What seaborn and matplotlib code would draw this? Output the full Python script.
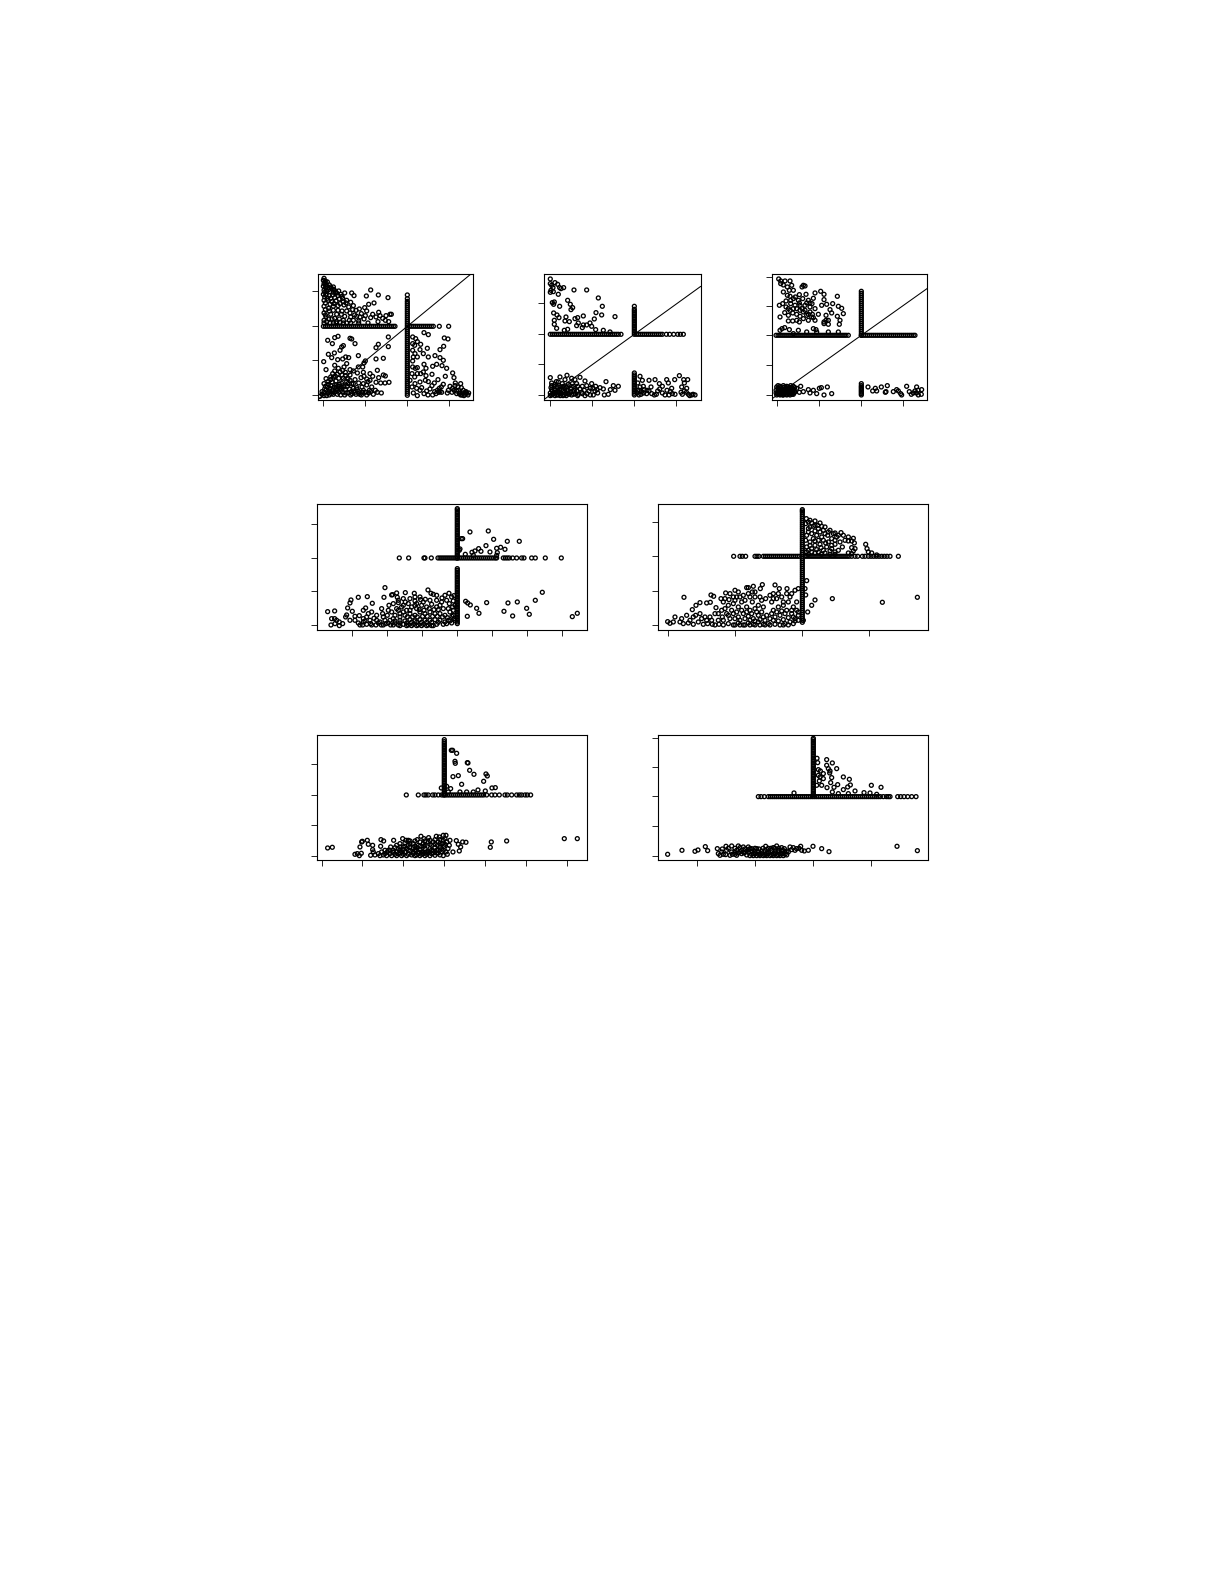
import matplotlib
matplotlib.use("Agg")
import matplotlib.pyplot as plt
import pandas as pd
import seaborn as sns

# Values are (x, y) readings on each panel's own unlabelled scale.
# ---------- panel 1 ----------
p1_ul = [(72,366),(70,360),(76,358),(82,355),(72,350),(78,348),(88,346),(70,342),(76,338),(84,338),(94,336),(102,332),(72,330),(80,328),(90,326),(100,324),(110,322),(70,318),(78,316),(88,314),(98,316),(114,314),(126,312),(134,322),(128,306),(140,300),(155,322),(162,314),(212,331),(199,313),(235,316),(264,308),(72,300),(84,300),(96,296),(108,298),(120,290),(132,286),(146,280),(160,284),(178,274),(194,278),(206,288),(222,292),(72,282),(86,276),(100,282),(114,270),(126,268),(150,262),(168,270),(184,260),(170,252),(200,268),(236,264),(240,254),(258,254),(270,258),(274,258),(228,250),(248,246),(72,262),(78,250),(92,258),(104,246),(118,244),(134,252),(148,240),(160,240),(176,238),(192,244),(212,248),(234,236),(256,240),(266,236),(80,236),(100,232),(120,234),(140,232),(204,232),(72,240)]
p1_ul2 = [(74,354),(80,342),(86,332),(74,324),(92,340),(100,340),(106,326),(116,328),(122,318),(74,310),(82,306),(92,306),(104,308),(118,304),(130,296),(76,292),(90,288),(102,290),(114,284),(138,292),(152,294),(76,272),(88,268),(100,270),(110,258),(124,258),(140,268),(158,272),(76,256),(86,244),(96,244),(110,236),(130,240),(152,250),(164,256),(180,250),(196,254),(218,258),(72,232),(90,232),(108,232),(130,232),(152,232),(176,232)]
p1_ll = [(83,180),(97,170),(104,188),(114,192),(150,186),(155,184),(165,170),(235,168),(265,190),(228,158),(265,161),(125,160),(130,164),(120,150),(103,142),(85,138),(95,128),(113,122),(71,116),(128,124),(137,130),(146,128),(175,134),(192,112),(228,124),(250,126),(196,118),(188,100),(104,105),(115,96),(78,92),(140,110),(132,100),(120,85),(175,100),(232,90),(210,80),(172,82),(190,84),(150,76),(100,70),(78,65),(92,62),(250,76),(256,73),(130,66),(150,60),(165,62),(183,68),(210,60),(228,54),(242,52),(255,52),(267,54),(72,50),(85,48),(96,55),(108,58),(118,48),(130,44),(142,42),(155,50),(170,38),(186,40),(200,46),(215,40),(60,12),(66,18),(72,24),(78,30),(84,22),(90,36),(98,28),(104,40),(112,30),(120,36),(128,24),(136,32),(144,22),(152,16),(160,28),(168,18),(176,26),(184,16),(196,24),(206,22),(72,14),(80,14),(88,16),(100,18),(112,18),(122,16),(134,16),(154,26),(176,20),(190,30),(212,26),(226,30),(92,44),(106,26),(116,42),(126,50),(140,56),(160,36)]
p1_ll2 = [(66,26),(74,34),(82,40),(88,28),(94,20),(102,24),(108,34),(116,24),(124,30),(132,40),(138,22),(148,34),(156,20),(164,24),(172,32),(180,18),(188,24),(200,16),(208,30),(220,18),(232,24),(244,22),(76,42),(84,56),(92,70),(98,80),(106,72),(116,66),(126,76),(136,74),(144,64),(108,46),(124,40),(144,50),(160,50),(176,52),(190,50),(204,56),(128,90),(136,84),(150,92),(160,88),(192,72),(200,64),(218,72),(236,68),(104,88),(112,78)]
p1_lr = [(347,185),(338,190),(352,176),(362,168),(372,203),(385,197),(433,187),(444,184),(431,162),(420,152),(338,150),(345,140),(360,152),(382,156),(352,130),(370,140),(338,118),(385,130),(405,134),(420,128),(430,120),(352,98),(346,96),(372,108),(378,96),(398,102),(410,108),(426,104),(440,96),(370,85),(362,80),(378,74),(396,78),(414,62),(436,72),(458,82),(462,68),(330,60),(345,50),(360,55),(385,56),(403,52),(418,36),(430,48),(450,42),(466,52),(474,40),(482,50),(336,40),(350,36),(365,38),(380,28),(396,44),(412,30),(425,24),(445,30),(462,30),(470,28),(480,22),(490,30),(496,18),(504,16),(492,14),(478,20),(340,22),(352,14),(384,16),(398,16),(420,26),(470,20),(500,22)]
p1_lr2 = [(338,100),(344,70),(352,80),(336,80),(340,130),(344,165),(338,170),(360,30),(372,20),(376,60),(390,34),(404,26),(408,20),(416,24),(424,40),(442,22),(456,24),(458,36),(465,44),(476,30),(484,38),(486,16),(498,26),(506,22),(496,24),(488,22),(482,16)]
p1_vert_y = [15,21,27,33,39,45,51,57,63,69,75,81,87,93,99,105,111,117,123,129,135,141,147,153,159,165,171,177,183,189,195,201,207,213,219,225,231,237,243,249,255,261,267,273,279,285,291,297,305,316]
p1_horz_x = [70,76,82,88,94,100,106,112,118,124,130,136,142,148,154,160,166,172,178,184,190,196,202,208,214,220,226,232,238,244,250,256,262,268,274,280,285,328,334,340,346,352,358,364,370,376,382,388,394,400,418,446]

# ---------- panel 2 ----------
p2_ul = [(76,364),(76,350),(80,345),(90,353),(98,348),(84,338),(78,330),(76,324),(85,326),(104,338),(116,338),(108,335),(147,331),(185,331),(220,307),(100,318),(88,295),(82,293),(86,288),(128,300),(136,288),(104,282),(143,278),(138,272),(232,282),(213,263),(230,256),(270,251),(86,262),(96,256),(123,250),(102,248),(175,253),(150,245),(158,248),(88,240),(120,238),(133,236),(208,244),(160,232),(88,228),(175,226),(195,232),(155,224),(185,226),(95,216),(118,210),(128,213),(172,218),(212,212),(235,210),(255,205),(200,222)]
p2_ll = [(76,68),(105,70),(126,75),(140,66),(165,69),(150,62),(120,62),(80,52),(100,55),(90,48),(112,50),(130,48),(155,50),(180,58),(185,44),(200,50),(243,56),(212,42),(225,38),(235,34),(280,42),(265,44),(256,32),(270,30),(238,16),(205,16),(218,22),(250,18),(78,38),(88,34),(96,40),(104,32),(120,36),(136,36),(148,30),(165,34),(178,30),(192,28),(210,28),(76,22),(84,18),(92,24),(100,16),(110,20),(118,16),(128,22),(140,16),(152,20),(160,18),(170,24),(186,20),(82,28),(98,26),(114,28),(130,30),(146,42),(76,14),(90,14),(106,14),(124,14)]
p2_ll2 = [(80,44),(88,42),(94,56),(102,44),(108,40),(116,42),(124,40),(134,44),(142,50),(150,36),(158,42),(172,42),(80,32),(90,30),(102,24),(110,32),(118,24),(126,30),(136,24),(144,26),(156,28),(172,20),(196,36),(204,36),(216,32),(80,16),(88,22),(96,16),(104,20),(114,14),(122,20),(132,18),(146,18),(158,14),(180,14),(196,16)]
p2_lr = [(345,72),(352,60),(338,52),(372,60),(390,62),(345,40),(355,42),(378,40),(403,50),(425,62),(430,52),(463,74),(449,62),(476,62),(488,62),(478,52),(412,42),(440,36),(470,40),(485,36),(338,30),(350,26),(365,20),(380,20),(398,28),(412,22),(420,16),(436,26),(450,18),(468,24),(478,28),(490,18),(500,16),(510,16),(494,14),(504,18),(342,16),(388,16),(432,16),(358,32)]
p2_lr2 = [(336,22),(344,30),(348,18),(356,22),(366,30),(372,28),(394,18),(404,34),(426,30),(442,20),(472,18),(484,24)]
p2_vert_y = [16,21,26,31,36,41,46,51,56,61,66,71,76,82,198,203,208,213,218,223,228,233,238,243,248,253,258,263,268,273,282]
p2_horz_x = [76,82,88,94,100,106,112,118,124,130,136,142,148,154,160,166,172,178,184,190,196,202,208,214,220,226,232,238,244,250,256,262,268,274,280,288,334,340,346,352,358,364,370,376,382,388,394,400,406,412,424,434,446,458,466,475]

# ---------- panel 3 ----------
p3_ul = [(86,364),(92,358),(105,358),(120,358),(92,350),(100,346),(112,340),(125,345),(160,345),(165,343),(156,340),(130,330),(100,325),(118,330),(148,317),(168,318),(195,322),(212,327),(222,318),(262,312),(120,312),(130,305),(145,300),(158,305),(175,300),(190,306),(222,302),(230,288),(248,290),(88,285),(98,290),(108,280),(122,290),(135,285),(150,285),(165,285),(180,280),(195,275),(215,285),(240,272),(265,282),(275,276),(90,250),(104,263),(115,255),(128,262),(140,258),(150,270),(165,270),(180,265),(187,258),(205,258),(228,255),(245,262),(262,252),(280,260),(115,238),(128,238),(148,235),(160,245),(175,240),(190,248),(222,230),(235,228),(222,235),(270,240),(268,228),(96,215),(104,218),(90,210),(118,212),(170,205),(190,215),(198,212),(200,205),(235,205),(265,205),(130,200),(145,210)]
p3_ul2 = [(112,315),(122,300),(136,310),(148,292),(156,275),(170,292),(180,292),(186,290),(140,275),(150,252),(170,255),(160,265),(175,258),(120,270),(108,298),(115,275),(130,275),(185,250),(195,240),(228,240),(235,240),(140,240)]
p3_ll = [(152,42),(140,36),(175,32),(190,30),(208,36),(214,38),(232,40),(222,16),(245,20),(200,20),(180,22),(160,26),(148,24),(80,40),(90,42),(100,44),(110,42),(122,44),(130,42),(78,30),(86,32),(94,34),(104,34),(114,34),(124,34),(132,32),(78,22),(86,24),(96,24),(106,24),(116,26),(126,24),(134,24),(80,16),(90,16),(100,16),(110,16),(120,16),(130,18),(84,28),(98,28),(110,28),(120,30),(92,20),(104,20),(116,18),(128,28)]
p3_ll2 = [(84,36),(92,26),(100,38),(108,30),(118,38),(126,38),(134,38),(82,20),(90,34),(98,16),(106,28),(114,22),(122,22),(130,22),(86,18),(94,18),(102,18),(110,18),(118,22),(126,18),(84,44),(92,38),(104,40),(114,40)]
p3_lr = [(354,40),(368,28),(376,36),(380,28),(394,40),(412,44),(408,26),(406,24),(430,26),(440,32),(445,28),(455,16),(452,20),(470,42),(478,26),(490,22),(500,40),(504,30),(515,32),(500,22),(514,18),(505,16),(495,28),(484,18)]
p3_vert_y = [16,20,24,28,32,36,40,44,50,195,201,207,213,219,225,231,237,243,249,255,261,267,273,279,285,291,297,303,309,315,321,327]
p3_horz_x = [78,84,90,96,102,108,114,120,126,132,138,144,150,156,162,168,174,180,186,192,198,204,210,216,222,228,234,240,246,252,258,264,270,276,282,288,295,334,340,346,352,358,364,370,376,382,388,394,400,406,412,418,424,430,436,442,448,454,460,466,472,478,484,490,495]

# ---------- panel 4 ----------
p4_ur = [(510,295),(565,298),(484,275),(488,275),(581,273),(622,267),(658,267),(558,254),(602,249),(590,246),(615,243),(536,245),(525,238),(543,237),(516,234),(570,235),(592,233),(480,244),(478,240),(496,228),(590,225),(520,225)]
p4_lower = [(727,114),(706,90),(652,85),(624,82),(560,83),(497,87),(503,82),(511,76),(530,66),(680,66),(612,57),(537,51),(688,48),(502,42),(638,43),(817,41),(832,51),(83,56),(104,58),(95,35),(104,35),(110,30),(93,16),(118,25),(118,14),(105,20),(128,20),(140,46),(143,67),(150,82),(153,91),(175,99),(202,101),(217,81),(197,67),(190,60),(157,57),(137,40),(150,30),(165,30),(178,44),(190,35),(205,50),(215,55),(222,36),(245,65),(248,50),(255,128),(252,99),(230,30),(188,16),(200,18),(212,20),(228,16),(244,16),(258,20),(272,16),(275,106),(278,107),(290,112),(292,99),(316,113),(343,111),(345,100),(267,75),(280,80),(295,83),(316,85),(325,80),(345,88),(360,100),(362,92),(376,93),(384,121),(393,111),(400,108),(410,105),(426,97),(435,105),(447,111),(455,100),(462,104),(440,90),(420,75),(410,70),(395,78),(380,70),(365,75),(350,65),(335,70),(320,60),(305,70),(290,65),(275,55),(262,45),(285,45),(300,50),(315,45),(330,50),(345,45),(360,55),(375,50),(390,55),(405,50),(420,50),(435,45),(450,55),(460,60),(465,75),(270,30),(285,28),(300,30),(315,28),(330,32),(345,28),(360,32),(375,30),(390,30),(405,32),(420,30),(435,25),(450,28),(462,35),(280,16),(295,16),(310,18),(325,16),(340,18),(355,16),(370,18),(385,16),(400,14),(410,18),(440,20),(455,22),(465,30)]
p4_lower2 = [(300,40),(310,55),(322,40),(338,40),(352,40),(368,42),(382,42),(398,42),(412,42),(428,40),(442,38),(456,42),(295,60),(310,75),(330,60),(345,75),(358,62),(372,60),(388,65),(402,62),(415,62),(430,65),(445,65),(458,70),(300,22),(320,22),(335,24),(350,24),(365,24),(380,24),(395,24),(415,24),(430,18),(445,30),(460,45),(195,28),(210,30),(240,25),(255,30),(250,40),(265,60),(280,35),(295,90),(310,95),(330,95),(350,80),(370,85),(390,90),(410,90),(425,85),(448,80),(460,88),(230,45),(200,40),(165,42),(175,22),(180,16),(190,25),(215,16),(235,22),(250,16),(265,22),(285,22),(300,14),(320,14),(335,14),(350,14),(365,14),(380,14),(395,14)]
p4_vert_y = [20,25,30,35,40,45,50,55,60,65,70,75,80,85,90,95,100,105,110,115,120,125,130,135,140,145,150,155,160,165,170,175,180,185,216,221,226,231,236,241,246,251,256,261,266,271,276,281,286,291,296,301,306,311,316,321,326,331,336,341,346,351,356,361,365]
p4_horz_x = [298,326,372,375,394,414,420,426,432,438,444,450,456,462,468,478,484,490,496,502,508,514,520,526,532,538,544,550,556,562,568,574,580,586,590,610,616,622,628,638,650,665,672,695,706,736,784]

# ---------- panel 5 ----------
p5_ur = [(514,335),(525,330),(540,328),(555,322),(570,310),(512,320),(520,305),(535,312),(550,305),(565,300),(580,295),(600,292),(618,293),(640,280),(655,276),(515,285),(530,290),(545,285),(560,280),(578,285),(590,275),(605,280),(630,270),(650,268),(658,262),(512,270),(525,265),(540,268),(555,258),(572,262),(590,255),(600,258),(622,250),(650,248),(660,245),(692,258),(696,245),(700,235),(515,250),(530,245),(545,242),(565,240),(585,238),(600,235),(515,235),(540,232),(650,230),(710,232),(725,226),(520,228),(560,228),(585,228)]
p5_ur2 = [(520,325),(530,322),(540,315),(548,315),(560,312),(525,310),(540,298),(555,295),(570,290),(585,300),(595,290),(610,285),(625,285),(520,295),(535,275),(550,270),(565,270),(580,265),(600,270),(615,265),(640,268),(525,255),(540,255),(558,248),(575,250),(590,245),(610,240),(520,240),(530,235),(550,235),(570,232),(600,228),(640,232),(655,238)]
p5_lower = [(515,149),(510,125),(512,106),(540,91),(530,75),(592,95),(518,55),(505,30),(742,84),(847,99),(147,99),(98,26),(105,21),(120,40),(115,25),(135,25),(145,20),(155,45),(140,35),(172,62),(183,75),(195,83),(215,82),(226,84),(228,106),(236,102),(243,68),(182,45),(195,50),(210,40),(165,30),(190,25),(205,18),(225,40),(240,50),(240,16),(250,30),(258,95),(272,112),(265,85),(285,110),(300,120),(305,100),(325,105),(335,128),(340,128),(355,132),(352,115),(376,125),(382,137),(352,85),(375,100),(380,90),(270,65),(280,75),(295,80),(310,70),(320,85),(335,70),(345,60),(360,65),(370,75),(385,70),(405,105),(420,136),(433,125),(456,125),(410,85),(425,95),(440,100),(465,100),(480,120),(490,125),(415,60),(430,70),(445,75),(460,85),(475,70),(485,85),(262,40),(280,45),(295,50),(310,40),(325,50),(340,42),(355,35),(370,45),(385,40),(405,35),(420,40),(435,45),(450,50),(470,50),(480,35),(490,45),(280,20),(295,16),(310,22),(325,16),(340,22),(355,18),(370,25),(385,18),(400,20),(420,18),(435,16),(450,20),(465,25),(480,28),(490,30)]
p5_lower2 = [(275,50),(290,60),(305,55),(320,60),(335,55),(350,50),(365,55),(380,55),(395,45),(410,50),(425,55),(440,58),(455,60),(470,60),(485,60),(260,60),(250,50),(265,30),(285,35),(300,35),(315,30),(330,35),(345,30),(360,28),(375,32),(390,30),(415,30),(430,28),(445,32),(460,38),(475,40),(490,55),(200,35),(215,30),(230,30),(175,40),(160,22),(175,18),(218,20),(232,18),(252,18),(265,16),(300,90),(315,100),(330,90),(345,100),(360,100),(392,95),(415,110),(430,110),(445,85),(455,110),(470,110),(415,95),(282,92),(295,100),(270,95),(310,115),(340,110),(360,115),(300,16),(315,16),(330,16),(345,16),(360,16),(375,16),(390,16),(405,16),(445,16),(460,16),(475,20)]
p5_vert_y = [24,30,36,42,48,54,60,66,72,78,84,90,96,102,108,114,120,126,132,138,144,150,156,162,168,174,180,186,192,198,204,210,216,222,228,234,240,246,252,258,264,270,276,282,288,294,300,306,312,318,324,330,336,342,348,354,358,362]
p5_horz_x = [296,315,322,332,360,366,372,385,391,397,403,409,415,421,427,433,439,445,451,457,463,469,475,481,487,493,510,516,522,528,534,540,546,552,558,564,570,576,582,588,594,600,606,612,618,624,630,636,642,650,660,668,682,690,700,708,716,724,732,740,748,756,765,790]

# ---------- panel 6 ----------
p6_ur = [(454,330),(458,330),(470,321),(465,297),(466,291),(502,293),(504,292),(509,270),(522,258),(475,254),(459,251),(558,259),(562,253),(551,237),(485,228),(534,211),(556,208),(576,217),(586,218),(424,217),(440,222),(452,215),(445,205),(500,205),(520,205),(480,205)]
p6_lower = [(83,37),(97,39),(165,18),(172,20),(178,14),(184,21),(180,40),(185,55),(187,57),(202,60),(205,48),(218,45),(218,32),(220,25),(243,62),(251,58),(242,42),(212,15),(225,16),(235,20),(245,25),(255,20),(265,30),(272,40),(281,60),(290,45),(308,65),(318,60),(325,60),(352,62),(363,72),(372,65),(386,68),(409,72),(418,70),(430,75),(438,75),(450,60),(469,59),(488,55),(498,54),(475,48),(482,40),(478,28),(459,25),(442,18),(430,14),(571,39),(574,55),(620,58),(793,65),(832,65),(280,30),(295,35),(310,40),(325,45),(340,50),(355,45),(370,50),(385,55),(400,55),(415,55),(430,60),(440,55),(270,20),(285,18),(300,22),(315,25),(330,28),(345,30),(360,32),(375,35),(390,35),(405,38),(420,40),(432,42),(444,35),(260,14),(275,14),(290,14),(305,14),(320,14),(335,16),(350,16),(365,18),(380,18),(395,20),(410,22),(425,25),(438,25),(340,38),(355,25),(370,25),(385,28),(400,28),(415,30),(300,30),(320,35),(345,14),(360,14),(375,14),(390,14),(405,15),(420,16),(330,40),(350,38),(372,42),(395,45),(412,45),(428,50),(262,25),(448,45)]
p6_lower2 = [(300,40),(315,42),(330,50),(345,42),(360,42),(375,45),(390,48),(405,48),(420,50),(435,48),(310,32),(325,30),(340,24),(350,30),(365,25),(380,25),(395,30),(410,30),(425,35),(290,25),(305,25),(280,24),(295,20),(310,18),(325,18),(340,20),(355,20),(370,20),(385,22),(400,22),(415,22),(430,30),(285,38),(270,30),(360,55),(375,58),(390,60),(405,62),(420,62),(435,65),(345,58),(330,58),(315,52),(300,50),(255,30),(250,16),(240,14)]
p6_vert_y = [196,201,206,211,216,221,226,231,236,241,246,251,256,261,266,271,276,281,286,291,296,301,306,311,316,321,326,331,336,341,346,351,356,362]
p6_horz_x = [319,355,372,378,385,398,405,415,425,431,437,443,449,455,461,467,473,479,485,491,497,503,509,515,521,527,533,539,545,551,560,575,585,598,615,622,635,650,658,665,675,682,692]

# ---------- panel 7 ----------
p7_ur = [(546,306),(548,293),(575,302),(592,292),(605,275),(575,285),(585,268),(580,275),(550,272),(556,268),(565,260),(584,262),(590,248),(565,245),(550,255),(553,238),(545,225),(587,233),(608,227),(576,218),(597,219),(625,250),(643,243),(625,212),(638,220),(646,226),(660,208),(592,205),(709,225),(738,219),(687,203),(705,202),(477,202),(610,200),(640,200),(725,198),(560,225),(555,250)]
p7_lower = [(98,18),(141,30),(180,27),(189,31),(211,41),(218,29),(247,35),(520,30),(534,42),(560,35),(582,26),(786,42),(847,29),(250,20),(255,15),(272,17),(262,34),(273,42),(290,43),(310,43),(325,40),(340,40),(365,35),(392,42),(425,43),(440,38),(465,40),(475,38),(497,42),(500,30),(508,28),(485,35),(260,25),(275,30),(290,25),(305,30),(320,30),(335,28),(292,18),(305,15),(320,20),(335,16),(345,14),(355,20),(365,14),(375,18),(385,14),(395,20),(405,14),(415,20),(425,14),(435,20),(445,14),(455,16),(350,28),(360,28),(370,25),(380,28),(390,30),(400,25),(410,30),(420,28),(430,30),(440,28),(450,25),(460,25),(315,38),(330,34),(345,35),(400,36),(415,38),(432,36),(448,35)]
p7_lower2 = [(300,24),(315,26),(328,22),(340,24),(350,18),(360,20),(370,18),(380,20),(390,16),(400,20),(410,16),(420,20),(430,16),(440,20),(450,18),(360,36),(372,34),(384,36),(396,32),(408,36),(420,36),(432,28),(444,30),(456,28),(300,36),(310,22),(280,36),(265,18),(285,15),(300,18),(350,35),(340,32),(325,24),(355,14),(375,14),(395,14),(415,14),(435,14),(470,32),(480,30),(492,36)]
p7_vert_y = [192,197,202,207,212,217,222,227,232,237,242,247,252,257,262,267,272,277,282,287,292,297,302,307,312,317,322,327,332,337,342,347,352,357,362,366]
p7_horz_x = [370,378,388,400,406,412,418,424,430,436,442,448,454,460,466,472,478,484,490,496,502,508,514,520,526,532,538,544,550,556,562,568,574,580,586,592,598,604,610,616,622,628,634,640,646,652,658,664,670,676,682,688,694,700,706,712,718,724,730,736,745,754,760,765,788,797,807,818,830,843]

# (axes left, top, right, bottom in figure pixels), scales, ticks, arm positions
W, H = 1225, 1585
panels = [
    dict(box=(317.7,274.3,473.3,400.3), xlim=(53,520), ylim=(0,378), xt=[70,196,322,448], yt=[15,120,222,327],
         pts=p1_ul+p1_ul2+p1_ll+p1_ll2+p1_lr+p1_lr2, vy=p1_vert_y, vx=322, hx=p1_horz_x, hy=222, diag=True),
    dict(box=(544.3,274.3,700.7,400.3), xlim=(58,527), ylim=(0,378), xt=[76,202,328,454], yt=[16,108,198,292],
         pts=p2_ul+p2_ll+p2_ll2+p2_lr+p2_lr2, vy=p2_vert_y, vx=328, hx=p2_horz_x, hy=198, diag=True),
    dict(box=(771.7,274.3,927.3,400.3), xlim=(65,532), ylim=(0,378), xt=[82,208,334,460], yt=[16,105,195,282,371],
         pts=p3_ul+p3_ul2+p3_ll+p3_ll2+p3_lr, vy=p3_vert_y, vx=334, hx=p3_horz_x, hy=195, diag=True),
    dict(box=(317.3,504.3,587.3,630.3), xlim=(52,862), ylim=(0,378), xt=[157,262,367,472,577,682,787], yt=[16,117,216,318],
         pts=p4_ur+p4_lower+p4_lower2, vy=p4_vert_y, vx=472, hx=p4_horz_x, hy=217, diag=False),
    dict(box=(658.3,504.3,927.7,630.3), xlim=(70,878), ylim=(0,378), xt=[100,301,502,703], yt=[16,118,222,324],
         pts=p5_ur+p5_ur2+p5_lower+p5_lower2, vy=p5_vert_y, vx=502, hx=p5_horz_x, hy=222, diag=False),
    dict(box=(317.3,735.3,587.3,860.3), xlim=(52,862), ylim=(0,375), xt=[67,187,310,433,556,679,802], yt=[13,105,196,288],
         pts=p6_ur+p6_lower+p6_lower2, vy=p6_vert_y, vx=433, hx=p6_horz_x, hy=196, diag=False),
    dict(box=(658.3,735.3,927.7,860.3), xlim=(70,878), ylim=(0,375), xt=[187,361,535,709], yt=[13,102,192,279,368],
         pts=p7_ur+p7_lower+p7_lower2, vy=p7_vert_y, vx=535, hx=p7_horz_x, hy=191, diag=False),
]

sns.set_style("white")
plt.rcParams["font.family"] = ["Liberation Sans", "DejaVu Sans"]
fig = plt.figure(figsize=(W/100, H/100), dpi=100, facecolor="white")

for p in panels:
    l, t, r, b = p["box"]
    ax = fig.add_axes([l/W, 1-b/H, (r-l)/W, (b-t)/H])
    df = pd.DataFrame(p["pts"], columns=["x", "y"])
    arm_v = pd.DataFrame({"x": p["vx"], "y": p["vy"]})
    arm_h = pd.DataFrame({"x": p["hx"], "y": p["hy"]})
    df = pd.concat([df, arm_v, arm_h], ignore_index=True)
    sns.scatterplot(data=df, x="x", y="y", ax=ax, marker="o", s=8,
                    facecolor="none", edgecolor="black", linewidth=0.95, clip_on=True)
    if p["diag"]:
        # identity line between the panel's two tick origins
        x0, x2 = p["xt"][0], p["xt"][2]
        y0, y2 = p["yt"][0], p["yt"][2]
        xs = [p["xlim"][0], p["xlim"][1]]
        ys = [y0 + (v-x0)*(y2-y0)/(x2-x0) for v in xs]
        sns.lineplot(x=xs, y=ys, ax=ax, color="black", linewidth=0.75, errorbar=None, sort=False)
    ax.set_xlim(*p["xlim"])
    ax.set_ylim(*p["ylim"])
    ax.set_xticks(p["xt"])
    ax.set_yticks(p["yt"])
    ax.set_xticklabels([])
    ax.set_yticklabels([])
    ax.set_xlabel("")
    ax.set_ylabel("")
    ax.tick_params(axis="both", direction="out", length=4, width=0.6, color="black",
                   bottom=True, left=True, top=False, right=False)
    for s in ax.spines.values():
        s.set_visible(True)
        s.set_color("black")
        s.set_linewidth(0.8)

fig.savefig("out.png", dpi=100, facecolor="white")
